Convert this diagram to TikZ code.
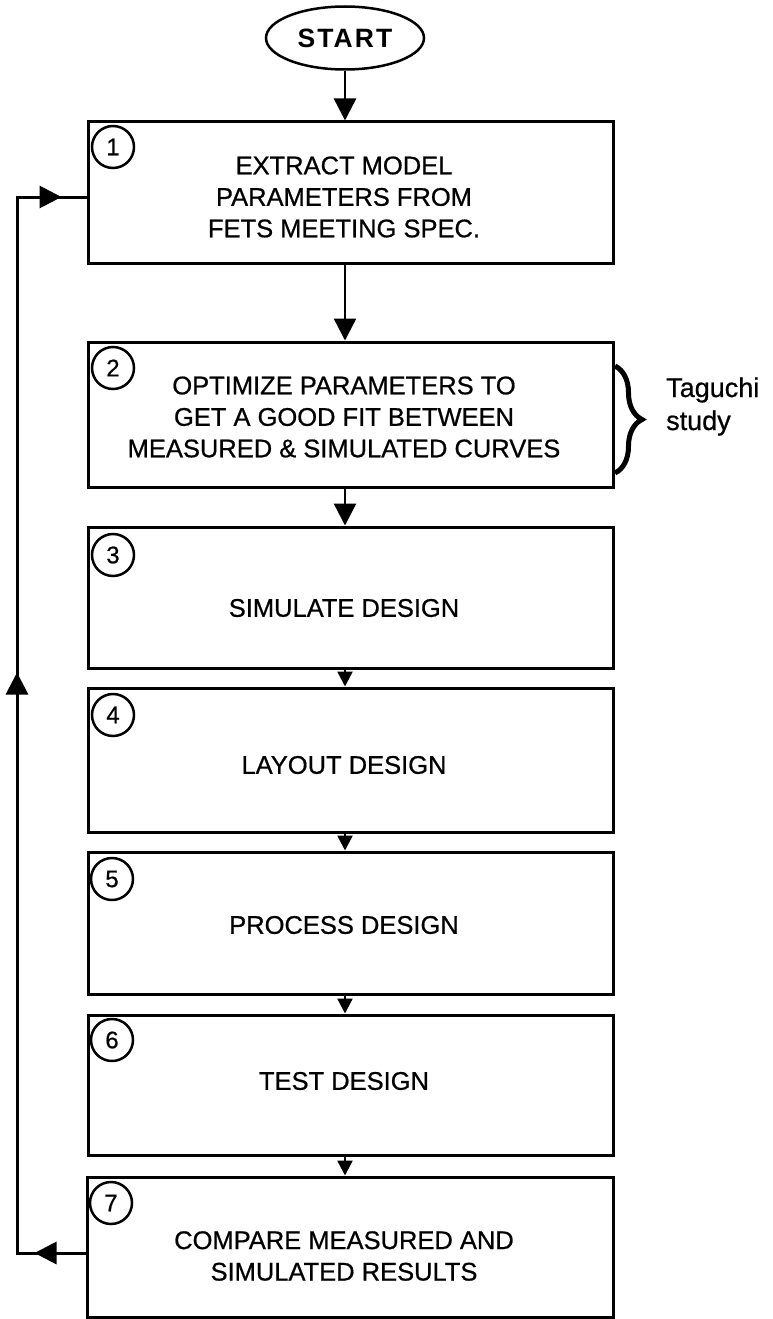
\documentclass[tikz,border=0pt]{standalone}
\usepackage{fontspec}
\setmainfont{Liberation Sans}
\newfontfamily\boxfont[FakeBold=0.7]{Liberation Sans}
\usetikzlibrary{arrows.meta,shapes.geometric,decorations.pathreplacing,decorations.markings,calc}
\begin{document}
\begin{tikzpicture}[x=1pt,y=-1pt,
  stepbox/.style={draw, rectangle, line width=3pt, minimum width=525pt, inner sep=0pt},
  boxtext/.style={align=center, font=\boxfont\fontsize{25.5}{31.5}\selectfont, inner sep=0pt},
  numcirc/.style={draw, circle, line width=2.5pt, minimum size=42pt, inner sep=0pt, font=\boxfont\fontsize{24}{24}\selectfont},
  bigarr/.style={line width=2.5pt, -{Triangle[length=22pt,width=22pt]}},
  smallarr/.style={line width=2.5pt, -{Triangle[length=15pt,width=15pt]}},
  looppath/.style={line width=3pt},
  sidetext/.style={anchor=base west, inner sep=0pt, font=\boxfont\fontsize{27}{33}\selectfont}
]
\useasboundingbox (0,0) rectangle (772,1319);

% start
\node[draw, ellipse, line width=2.5pt, minimum width=158pt, minimum height=63pt, inner sep=0pt,
  font=\fontsize{26.5}{26.5}\selectfont\bfseries\addfontfeature{LetterSpace=8}] (start) at (345,38) {START};

% boxes
\node[stepbox, minimum height=141pt] (b1) at (350.5,192.5) {};
\node[stepbox, minimum height=145pt] (b2) at (350.5,414.5) {};
\node[stepbox, minimum height=141pt] (b3) at (350.5,597.5) {};
\node[stepbox, minimum height=144pt] (b4) at (350.5,760) {};
\node[stepbox, minimum height=142pt] (b5) at (350.5,923) {};
\node[stepbox, minimum height=140pt] (b6) at (350.5,1085) {};
\node[stepbox, minimum height=140pt, minimum width=526pt] (b7) at (350,1247) {};

% texts
\node[boxtext] (t1) at (344,197) {EXTRACT MODEL\\PARAMETERS FROM\\FETS MEETING SPEC.};
\node[boxtext] (t2) at (344,417) {OPTIMIZE PARAMETERS TO\\GET A GOOD FIT BETWEEN\\MEASURED \& SIMULATED CURVES};
\node[boxtext] (t3) at (344,608) {SIMULATE DESIGN};
\node[boxtext] (t4) at (344,765) {LAYOUT DESIGN};
\node[boxtext] (t5) at (344,925) {PROCESS DESIGN};
\node[boxtext] (t6) at (344,1081) {TEST DESIGN};
\node[boxtext] (t7) at (344,1256) {COMPARE MEASURED AND\\SIMULATED RESULTS};

% numbers
\node[numcirc] (c1) at (113,147) {1};
\node[numcirc] (c2) at (113,368) {2};
\node[numcirc] (c3) at (113,555) {3};
\node[numcirc] (c4) at (113,715) {4};
\node[numcirc] (c5) at (112,879) {5};
\node[numcirc] (c6) at (112,1040) {6};
\node[numcirc] (c7) at (111,1203) {7};

% arrows
\coordinate (col) at (345,0);
\draw[bigarr] (start.south) -- (start.south |- b1.north);
\draw[bigarr] (col |- b1.south) -- (col |- b2.north);
\draw[bigarr] (col |- b2.south) -- (col |- b3.north);
\draw[smallarr] (col |- b3.south) -- (col |- b4.north);
\draw[smallarr] (col |- b4.south) -- (col |- b5.north);
\draw[smallarr] (col |- b5.south) -- (col |- b6.north);
\draw[smallarr] (col |- b6.south) -- (col |- b7.north);

% loop
\coordinate (lb) at (17,1253);
\coordinate (lt) at (17,197);
\draw[looppath, postaction={decorate}, decoration={markings,
   mark=at position 51pt with {\arrow{Triangle[length=22pt,width=22pt]}},
   mark=at position 649pt with {\arrow{Triangle[length=22pt,width=22pt]}},
   mark=at position 1169pt with {\arrow{Triangle[length=22pt,width=22pt]}}}]
  (b7.west |- lb) -- (lb) -- (lt) -- (b1.west |- lt);

% brace
\coordinate (bt) at (615,366);
\coordinate (bb) at (615,473);
\draw[line width=5pt, decorate, decoration={brace, amplitude=27pt}] (bt) -- (bb);
\node[sidetext] (tg1) at (666,397) {Taguchi};
\node[sidetext] (tg2) at (666,430) {study};
\end{tikzpicture}
\end{document}
